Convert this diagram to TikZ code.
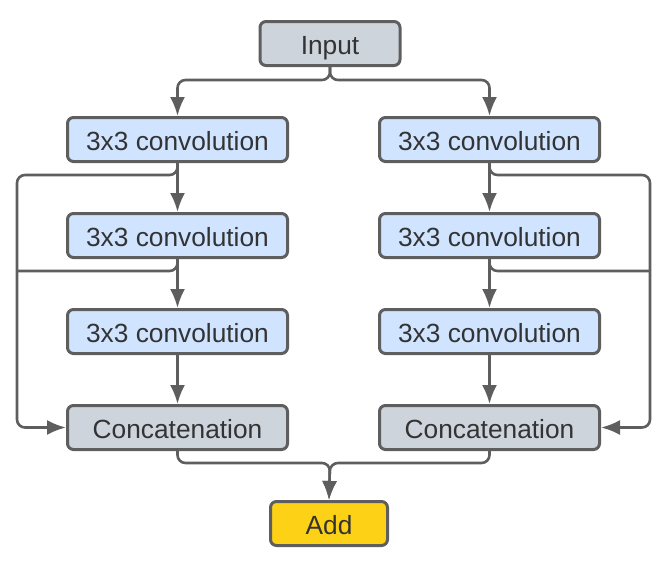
\documentclass[tikz,border=0pt]{standalone}
\usepackage{fontspec}
\setmainfont{Liberation Sans}
\usetikzlibrary{arrows.meta}
\definecolor{convblue}{HTML}{D0E4FF}
\definecolor{boxgray}{HTML}{CED4DC}
\definecolor{addyellow}{HTML}{FCD116}
\definecolor{edgegray}{HTML}{5E5E5E}
\definecolor{textgray}{HTML}{333333}
\tikzset{
    block/.style={draw=edgegray, line width=3pt, rounded corners=6pt, minimum width=220pt,
        minimum height=44pt, inner sep=0pt, text height=22pt, text depth=0pt,
        text=textgray, font=\fontsize{26.3}{30}\selectfont},
    conv/.style={block, fill=convblue},
    merge/.style={block, fill=boxgray},
    conn/.style={draw=edgegray, line width=2.6pt, rounded corners=8pt},
}
\begin{document}
\begin{tikzpicture}[x=1pt, y=-1pt, >={Latex[width=15pt,length=19pt]}]
        \useasboundingbox (0,0) rectangle (666,562);
        % Spalten und Zeilen
        \def\xl{177.5}
        \def\xr{489.5}
        \def\ystep{96}

        % Bloecke
        \node[merge, minimum width=140pt] (in) at (330,43.5) {Input};
        \node[conv] (c1l) at (\xl,139.5) {3x3 convolution};
        \node[conv] (c2l) at (\xl,139.5+\ystep) {3x3 convolution};
        \node[conv] (c3l) at (\xl,139.5+2*\ystep) {3x3 convolution};
        \node[merge] (catl) at (\xl,139.5+3*\ystep) {Concatenation};
        \node[conv] (c1r) at (\xr,139.5) {3x3 convolution};
        \node[conv] (c2r) at (\xr,139.5+\ystep) {3x3 convolution};
        \node[conv] (c3r) at (\xr,139.5+2*\ystep) {3x3 convolution};
        \node[merge] (catr) at (\xr,139.5+3*\ystep) {Concatenation};
        \node[block, fill=addyellow, minimum width=117pt] (add) at (329,523.5) {Add};

        % Hilfspunkte
        \coordinate (split) at (330,80);
        \coordinate (join) at (330,463);
        \coordinate (l1) at (17,175);
        \coordinate (l2) at (17,271);
        \coordinate (r1) at (650,175);
        \coordinate (r2) at (650,271);

        % Verzweigung
        \draw[conn,->] (in.south) -- (split) -| (c1l.north);
        \draw[conn,->] (in.south) -- (split) -| (c1r.north);

        % Hauptpfade
        \draw[conn,->] (c1l) -- (c2l);
        \draw[conn,->] (c2l) -- (c3l);
        \draw[conn,->] (c3l) -- (catl);
        \draw[conn,->] (c1r) -- (c2r);
        \draw[conn,->] (c2r) -- (c3r);
        \draw[conn,->] (c3r) -- (catr);

        % Seitenpfade
        \draw[conn,->] (c1l.south) |- (l1) |- (catl.west);
        \draw[conn] (c2l.south) |- (l2);
        \draw[conn,->] (c1r.south) |- (r1) |- (catr.east);
        \draw[conn] (c2r.south) |- (r2);

        % Zusammenfuehrung
        \draw[conn,->] (catl.south) |- (join) -- (add.north);
        \draw[conn,->] (catr.south) |- (join) -- (add.north);
    \end{tikzpicture}
\end{document}
